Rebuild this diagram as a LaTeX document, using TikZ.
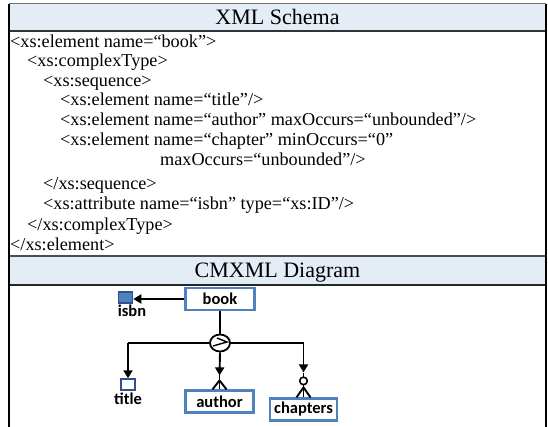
\documentclass[tikz,border=0pt]{standalone}
\usepackage{fontspec}
\setmainfont{Liberation Serif}
\newfontfamily\labelfont{Carlito}
\usetikzlibrary{arrows.meta,shapes.geometric}
\definecolor{headfill}{RGB}{228,236,246}
\definecolor{boxblue}{RGB}{79,129,189}
\definecolor{darkblue}{RGB}{47,82,143}
\begin{document}
\begin{tikzpicture}[x=1pt,y=-1pt,
  code/.style={anchor=base west,inner sep=0pt,font=\fontsize{18.2}{20}\selectfont},
  head/.style={anchor=base,inner sep=0pt,font=\fontsize{22}{24}\selectfont},
  entity/.style={draw=boxblue,line width=2.2pt,fill=white,minimum height=22pt,inner sep=0pt,
    font=\labelfont\bfseries\fontsize{16.5}{18}\selectfont},
  attr/.style={draw=darkblue,line width=1.5pt,minimum width=14pt,minimum height=11pt,inner sep=0pt},
  lbl/.style={inner sep=0pt,font=\labelfont\bfseries\fontsize{16.5}{18}\selectfont},
  link/.style={line width=1.9pt},
  tip/.style={-{Triangle[length=8pt,width=9pt]}}
]
\useasboundingbox (0,0) rectangle (548,427);

% header bands
\fill[headfill] (9,4) rectangle (546,31);
\fill[headfill] (9,256) rectangle (546,285);
\draw[black!55, line width=1pt] (9,4) -- (546,4);
\draw[black!80, line width=1.2pt] (9,31) -- (546,31);
\draw[black!70, line width=1.2pt] (9,256) -- (546,256);
\draw[black!85, line width=1.2pt] (9,285) -- (546,285);
\draw[line width=1.7pt] (9,4) -- (9,427);
\draw[line width=1.7pt] (546,4) -- (546,427);

\node[head] (h1) at (277.5,25) {XML Schema};
\node[head] (h2) at (277.5,278) {CMXML Diagram};

% schema listing
\node[code] (c1)  at (10,48)  {<xs:element\ name=“book”>};
\node[code] (c2)  at (27,67)  {<xs:complexType>};
\node[code] (c3)  at (43,87)  {<xs:sequence>};
\node[code] (c4)  at (60,106) {<xs:element name=“title”/>};
\node[code] (c5)  at (60,126) {<xs:element name=“author” maxOccurs=“unbounded”/>};
\node[code] (c6)  at (60,146) {<xs:element name=“chapter” minOccurs=“0”};
\node[code] (c7)  at (160,166) {maxOccurs=“unbounded”/>};
\node[code] (c8)  at (43,190) {</xs:sequence>};
\node[code] (c9)  at (43,210) {<xs:attribute name=“isbn” type=“xs:ID”/>};
\node[code] (c10) at (27,231) {</xs:complexType>};
\node[code] (c11) at (10,251) {</xs:element>};

% CMXML diagram
\node[entity,minimum width=69pt] (book) at (220,299) {book};
\node[entity,minimum width=68pt] (author) at (219.5,401.5) {author};
\node[entity,minimum width=67pt] (chapters) at (303.5,409.5) {chapters};
\node[attr,fill=boxblue] (isbnbox) at (125.5,297.5) {};
\node[lbl] (isbn) at (132,310.5) {isbn};
\node[attr,fill=white] (titlebox) at (128,384.5) {};
\node[lbl] (title) at (128,399) {title};
\node[ellipse,draw,line width=1.8pt,fill=white,minimum width=20pt,minimum height=17pt,inner sep=0pt] (seq) at (220,343) {};
\draw[line width=1.4pt] ([shift={(-7,3)}]seq.center) -- ([shift={(7,-1)}]seq.center) -- ([shift={(-3,-5)}]seq.center);

\coordinate (L) at (titlebox.north |- seq.center);
\coordinate (R) at (chapters.north |- seq.center);

\draw[link,tip] (book.west) -- (isbnbox.east |- book.west);
\draw[link] (book.south) -- (seq.north);
\draw[link] (L) -- (seq.west);
\draw[link] (seq.east) -- (R);
\draw[link,tip] (L) -- (titlebox.north);

% author: one or more
\draw[link,tip] (seq.south) -- ([yshift=14pt]author.north);
\draw[link] ([yshift=14pt]author.north) -- (author.north);
\draw[link] ([yshift=9pt]author.north) -- ([xshift=-7pt]author.north);
\draw[link] ([yshift=9pt]author.north) -- ([xshift=7pt]author.north);

% chapters: zero or more
\draw[link,tip] (R) -- ([yshift=25pt]chapters.north);
\draw[link] ([yshift=24pt]chapters.north) -- ([yshift=20.5pt]chapters.north);
\draw[line width=1.6pt,fill=white] ([yshift=16.5pt]chapters.north) circle[radius=3.8pt];
\draw[link] ([yshift=12.5pt]chapters.north) -- (chapters.north);
\draw[link] ([yshift=10pt]chapters.north) -- ([xshift=-7pt]chapters.north);
\draw[link] ([yshift=10pt]chapters.north) -- ([xshift=7pt]chapters.north);
\end{tikzpicture}
\end{document}
